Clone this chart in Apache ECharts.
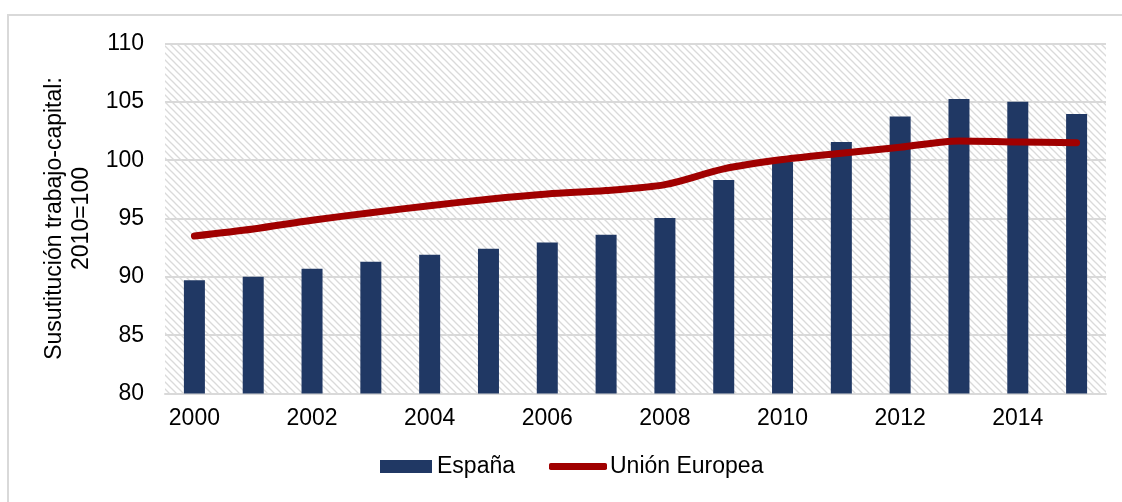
<!DOCTYPE html>
<html>
<head>
<meta charset="utf-8">
<script src="https://cdn.jsdelivr.net/npm/echarts@6/dist/echarts.min.js"></script>
<style>
html,body{margin:0;padding:0;background:#fff;}
#chart{width:1122px;height:502px;}
</style>
</head>
<body>
<div id="chart"></div>
<script>
const years = ['2000','2001','2002','2003','2004','2005','2006','2007','2008','2009','2010','2011','2012','2013','2014','2015'];
const espana = [89.7, 90.0, 90.7, 91.3, 91.9, 92.4, 92.95, 93.6, 95.05, 98.3, 99.85, 101.55, 103.75, 105.25, 105.0, 103.95];
const unionEuropea = [93.5, 94.1, 94.85, 95.5, 96.1, 96.65, 97.1, 97.4, 97.9, 99.25, 100.05, 100.6, 101.1, 101.65, 101.55, 101.5];
const yTicks = [80, 85, 90, 95, 100, 105, 110];

const FONT = '"Liberation Sans", Arial, sans-serif';

// hatched background pattern
const s = 7;
const tile = document.createElement('canvas');
tile.width = s; tile.height = s;
const ctx = tile.getContext('2d');
ctx.fillStyle = '#ffffff';
ctx.fillRect(0, 0, s, s);
ctx.strokeStyle = '#dadada';
ctx.lineWidth = 1.3;
for (const c of [-s, 0, s]) {
  ctx.beginPath();
  ctx.moveTo(-1, -1 + c);
  ctx.lineTo(s + 1, s + 1 + c);
  ctx.stroke();
}

const chart = echarts.init(document.getElementById('chart'), null, {renderer: 'canvas'});
chart.setOption({
  animation: false,
  textStyle: {fontFamily: FONT},
  graphic: [{
    type: 'rect',
    shape: {x: 8, y: 15, width: 1400, height: 800},
    style: {fill: 'none', stroke: '#d9d9d9', lineWidth: 2},
    silent: true, z: -10
  }],
  grid: {
    left: 165, right: 16, top: 43.5, bottom: 108.5,
    show: true,
    backgroundColor: {image: tile, repeat: 'repeat'},
    borderWidth: 0
  },
  legend: [
    {
      left: 380, top: 455, padding: 0,
      itemWidth: 52, itemHeight: 13,
      textStyle: {fontFamily: FONT, fontSize: 23, color: '#000'},
      data: [{name: 'España', icon: 'rect'}]
    },
    {
      left: 549, top: 455, padding: 0,
      itemWidth: 58, itemHeight: 7,
      textStyle: {fontFamily: FONT, fontSize: 23, color: '#000', padding: [0, 0, 0, -2]},
      data: [{name: 'Unión Europea', icon: 'roundRect', itemStyle: {color: '#a00000'}}]
    }
  ],
  xAxis: {
    type: 'category',
    data: years,
    boundaryGap: true,
    axisLine: {show: true, lineStyle: {color: '#d9d9d9', width: 2}},
    axisTick: {show: false},
    axisLabel: {interval: 1, fontSize: 23, color: '#000', fontFamily: FONT, margin: 14}
  },
  yAxis: {
    type: 'value',
    min: 80, max: 110, interval: 5,
    name: 'Susutitución trabajo-capital:\n2010=100',
    nameLocation: 'middle',
    nameGap: 70,
    nameTextStyle: {fontSize: 23, color: '#000', fontFamily: FONT, lineHeight: 27},
    axisLine: {show: false},
    axisTick: {show: false},
    axisLabel: {
      fontSize: 23, color: '#000', fontFamily: FONT, margin: 21,
      formatter: v => yTicks.includes(v) ? String(v) : ''
    },
    splitLine: {lineStyle: {color: '#d9d9d9', width: 2}}
  },
  series: [
    {
      name: 'España',
      type: 'bar',
      data: espana,
      barWidth: 21,
      itemStyle: {color: '#203864'},
      z: 2
    },
    {
      name: 'Unión Europea',
      type: 'line',
      data: unionEuropea,
      smooth: 0.3,
      symbol: 'none',
      lineStyle: {color: '#a00000', width: 7, cap: 'round', join: 'round'},
      itemStyle: {color: '#a00000'},
      z: 3
    }
  ]
});
</script>
</body>
</html>
